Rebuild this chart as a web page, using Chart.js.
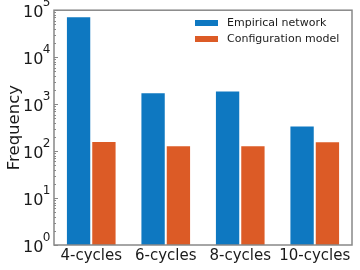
<!DOCTYPE html>
<html><head><meta charset="utf-8">
<script src="https://cdn.jsdelivr.net/npm/chart.js@4/dist/chart.umd.min.js"></script>
<style>html,body{margin:0;padding:0;background:#fff}#wrap{width:360px;height:270px}</style>
</head><body><div id="wrap"><canvas id="c" width="360" height="270"></canvas></div>
<script>
const categories = ["4-cycles", "6-cycles", "8-cycles", "10-cycles"];
const empirical = [74000, 1780, 1950, 352];
const configuration = [164, 133, 133, 162];
const seriesNames = ["Empirical network", "Configuration model"];
const seriesColors = ["#0e78c1", "#dc5b26"];
const yMajorTicks = [1, 10, 100, 1000, 10000, 100000];

function isMajor(v){ return yMajorTicks.some(m => Math.abs(m - v) < 1e-9 * m); }

const FONT = "'DejaVu Sans', sans-serif";

const framePlugin = {
  id: "frame",
  afterDraw(chart){
    const ctx = chart.ctx, a = chart.chartArea, y = chart.scales.y;
    ctx.save();
    ctx.strokeStyle = "#888888";
    ctx.lineWidth = 1;
    y.ticks.forEach(t => {
      const py = Math.round(y.getPixelForValue(t.value)) + 0.5;
      const len = isMajor(t.value) ? 4 : 2;
      ctx.beginPath(); ctx.moveTo(a.left, py); ctx.lineTo(a.left + len, py); ctx.stroke();
    });
    ctx.lineWidth = 1.5;
    ctx.strokeRect(a.left, a.top, a.right - a.left, a.bottom - a.top);
    // y tick labels: 10 with superscript exponent
    ctx.fillStyle = "#1a1a1a";
    ctx.textAlign = "right";
    ctx.textBaseline = "alphabetic";
    yMajorTicks.forEach(v => {
      const py = y.getPixelForValue(v);
      const exp = String(Math.round(Math.log10(v)));
      const xr = a.left - 3.5;
      ctx.font = "12px " + FONT;
      const ew = ctx.measureText(exp).width;
      ctx.fillText(exp, xr, py - 4.5);
      ctx.font = "16px " + FONT;
      ctx.fillText("10", xr - ew + 0.5, py + 6.5);
    });
    // legend
    ctx.font = "11px " + FONT;
    ctx.textBaseline = "middle";
    ctx.textAlign = "left";
    chart.data.datasets.forEach((ds, i) => {
      const cy = 23 + i * 16;
      ctx.fillStyle = ds.backgroundColor;
      ctx.fillRect(195, cy - 3, 23, 6);
      ctx.fillStyle = "#1a1a1a";
      ctx.fillText(ds.label, 227, cy);
    });
    ctx.restore();
  }
};

new Chart(document.getElementById("c"), {
  type: "bar",
  data: {
    labels: categories,
    datasets: [
      { label: seriesNames[0], data: empirical, backgroundColor: seriesColors[0], borderColor: "rgba(255,255,255,0.55)", borderWidth: 1, categoryPercentage: 0.68, barPercentage: 1.0 },
      { label: seriesNames[1], data: configuration, backgroundColor: seriesColors[1], borderColor: "rgba(255,255,255,0.55)", borderWidth: 1, categoryPercentage: 0.68, barPercentage: 1.0 }
    ]
  },
  options: {
    responsive: false,
    animation: false,
    devicePixelRatio: 1,
    layout: { padding: { top: 7.5, right: 8, left: 0, bottom: 0 } },
    plugins: { legend: { display: false }, tooltip: { enabled: false } },
    scales: {
      x: {
        grid: { display: false, drawTicks: false },
        border: { display: false },
        ticks: { color: "#1a1a1a", font: { family: FONT, size: 15 }, padding: 2, maxRotation: 0 },
        afterFit(s){ s.height = 25; }
      },
      y: {
        type: "logarithmic",
        min: 1, max: 100000,
        grid: { display: false, drawTicks: false },
        border: { display: false },
        title: { display: true, text: "Frequency", color: "#1a1a1a", font: { family: FONT, size: 16.5 }, padding: { top: 5, bottom: 0 } },
        afterBuildTicks(s){
          const t = [];
          for (let k = 0; k < yMajorTicks.length; k++) {
            const base = yMajorTicks[k];
            t.push({ value: base });
            if (k < yMajorTicks.length - 1) for (let m = 2; m <= 9; m++) t.push({ value: base * m });
          }
          s.ticks = t;
        },
        ticks: { autoSkip: false, callback(){ return ""; } },
        afterFit(s){ s.width = 54; }
      }
    }
  },
  plugins: [framePlugin]
});
</script></body></html>
